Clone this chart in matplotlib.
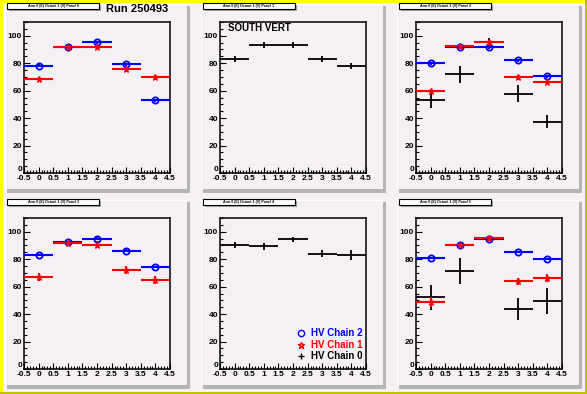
import numpy as np
import matplotlib
matplotlib.use("Agg")
import matplotlib.pyplot as plt
from matplotlib.patches import Rectangle
from matplotlib.ticker import MultipleLocator

plt.rcParams["font.family"] = ["Liberation Sans", "DejaVu Sans"]

# datos por panel (bins 0..4)
bins = [0, 1, 2, 3, 4]
panel_titles = ["Arm 0 (E) Octant 1 (V) Panel 0", "Arm 0 (E) Octant 1 (V) Panel 1",
                "Arm 0 (E) Octant 1 (V) Panel 2", "Arm 0 (E) Octant 1 (V) Panel 3",
                "Arm 0 (E) Octant 1 (V) Panel 4", "Arm 0 (E) Octant 1 (V) Panel 5"]

chain2 = {0: [78.3, 91.5, 95.1, 79.1, 53.0],
          2: [79.8, 91.5, 91.5, 82.0, 70.3],
          3: [83.1, 92.4, 94.9, 86.1, 74.3],
          5: [80.9, 90.5, 94.4, 85.3, 80.2]}
chain2_err = {0: [1.0, 1.0, 1.0, 1.2, 1.0],
              2: [1.0, 1.0, 1.0, 1.0, 1.0],
              3: [1.0, 1.0, 1.0, 1.0, 1.0],
              5: [1.0, 1.0, 1.0, 1.0, 1.0]}
chain1 = {0: [68.6, 91.5, 91.5, 75.4, 69.6],
          2: [59.6, 92.2, 95.1, 69.6, 66.2],
          3: [67.0, 91.9, 90.5, 72.1, 64.8],
          5: [48.7, 90.5, 95.4, 64.0, 66.5]}
chain1_err = {0: [1.5, 1.5, 1.5, 1.5, 1.5],
              2: [1.5, 1.5, 1.5, 1.5, 1.5],
              3: [3.0, 1.5, 2.5, 3.0, 3.0],
              5: [3.5, 1.5, 1.5, 2.5, 3.0]}
chain0 = {1: [83.2, 93.4, 93.4, 83.0, 78.0],
          2: [53.0, 71.8, 95.5, 57.9, 37.5],
          4: [90.5, 89.5, 94.4, 83.9, 83.1],
          5: [52.3, 71.4, 94.5, 43.5, 49.4]}
chain0_err = {1: [2.0, 2.0, 2.0, 2.0, 2.0],
              2: [6.0, 6.5, 3.0, 6.0, 5.0],
              4: [2.0, 2.5, 2.0, 2.5, 3.5],
              5: [9.0, 9.5, 1.5, 8.0, 9.5]}

W, H = 587, 394
bg = "#f4f0f4"

fig = plt.figure(figsize=(W / 100, H / 100), dpi=100, facecolor=bg)

def rect_px(x, y, w, h, z=1, **kw):
    # rectangulo en pixeles con origen arriba a la izquierda
    r = Rectangle((x / W, 1 - (y + h) / H), w / W, h / H, transform=fig.transFigure, zorder=z, **kw)
    fig.patches.append(r)

# borde del canvas
rect_px(0, 0, 587, 2.5, color="#ffff00", lw=0)
rect_px(0, 0, 2.5, 394, color="#ffff00", lw=0)
rect_px(0, 391.5, 587, 2.5, color="#c0c000", lw=0)
rect_px(584.5, 0, 2.5, 394, color="#c0c000", lw=0)

for p in range(6):
    r, c = divmod(p, 3)
    px = 5 + 196 * c
    py = 4 + 196 * r
    # pad con sombra
    rect_px(px + 2, py + 2, 183, 187, color="#b4b4b4", lw=0)
    rect_px(px, py, 182, 185, color=bg, lw=0)
    rect_px(px, py, 182, 1, color="white", lw=0)
    rect_px(px, py, 1, 185, color="white", lw=0)

    ax_x = 24 + 196 * c
    ax_y = 22 + 196 * r
    ax = fig.add_axes([ax_x / W, 1 - (ax_y + 151) / H, 146 / W, 151 / H])
    ax.set_zorder(5)
    ax.set_facecolor(bg)
    ax.set_xlim(-0.5, 4.5)
    ax.set_ylim(0, 110)
    ax.xaxis.set_minor_locator(MultipleLocator(0.1))
    ax.yaxis.set_minor_locator(MultipleLocator(5))
    ax.set_xticks([-0.5, 0, 0.5, 1, 1.5, 2, 2.5, 3, 3.5, 4, 4.5])
    ax.set_xticklabels(["-0.5", "0", "0.5", "1", "1.5", "2", "2.5", "3", "3.5", "4", "4.5"])
    ax.set_yticks([0, 20, 40, 60, 80, 100])
    ax.tick_params(which="both", direction="in", top=False, right=False, labelsize=6, pad=1.5, width=0.8)
    ax.tick_params(which="major", length=4.5)
    ax.tick_params(which="minor", length=2.5)
    for lab in ax.get_xticklabels() + ax.get_yticklabels():
        lab.set_fontweight("bold")
    ax.get_yticklabels()[0].set_va("bottom")   # el "0" queda encima del "-0.5"
    for s in ax.spines.values():
        s.set_linewidth(1.1)

    if p in chain0:
        ax.errorbar(bins, chain0[p], xerr=0.5, yerr=chain0_err[p], fmt="none",
                    ecolor="black", elinewidth=1.3, capsize=0, zorder=2)
    if p in chain2:
        ax.errorbar(bins, chain2[p], xerr=0.5, yerr=chain2_err[p], fmt="o", color="#0000ff",
                    mfc="none", mec="#0000ff", ms=4.5, mew=1.3, elinewidth=1.5, capsize=0, zorder=3)
    if p in chain1:
        ax.errorbar(bins, chain1[p], xerr=0.5, yerr=chain1_err[p], fmt="*", color="#ff0000",
                    mfc="none", mec="#ff0000", ms=4.5, mew=0.9, elinewidth=1.5, capsize=0, zorder=3)

    # caja del titulo
    rect_px(px + 4, py + 1, 92, 6, z=10, facecolor="#a0a0a0", lw=0)
    rect_px(px + 2, py - 1, 92, 6, z=11, facecolor="white", edgecolor="black", lw=0.8)
    fig.text((px + 48) / W, 1 - (py + 2) / H, panel_titles[p], fontsize=2.6,
             fontweight="bold", ha="center", va="center", zorder=12)

fig.text(106 / W, 1 - 9 / H, "Run 250493", fontsize=8, fontweight="bold", ha="left", va="center", zorder=12)
fig.text(228 / W, 1 - 28 / H, "SOUTH VERT", fontsize=7, fontweight="bold", ha="left", va="center", zorder=12)

# leyenda del panel 4
ley = [("HV Chain 2", "#0000ff", "o"), ("HV Chain 1", "#ff0000", "*"), ("HV Chain 0", "black", "+")]
for i, (txt, col, mk) in enumerate(ley):
    yy = 333 + 11.5 * i
    fig.lines.append(plt.Line2D([301 / W], [1 - yy / H], transform=fig.transFigure, marker=mk,
                                color=col, mfc="none", ms=4.5, mew=1.0, ls="none", zorder=12))
    fig.text(311 / W, 1 - yy / H, txt, color=col, fontsize=7, fontweight="bold", ha="left",
             va="center", zorder=12)

fig.savefig("out.png", dpi=100, facecolor=bg)
